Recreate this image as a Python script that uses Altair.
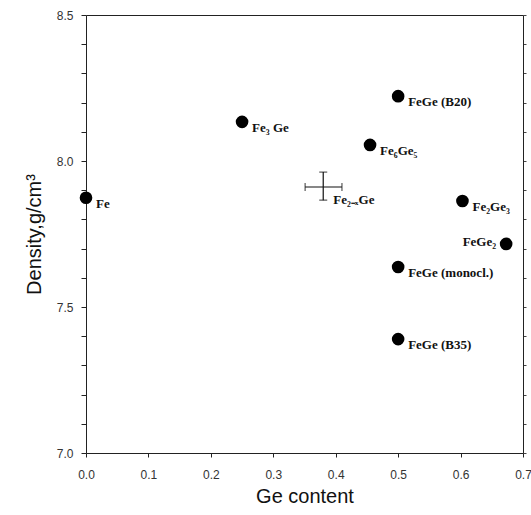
import altair as alt
import pandas as pd

# compounds
names = ["Fe", "Fe₃ Ge", "FeGe (B20)", "Fe₆Ge₅", "Fe₂Ge₃", "FeGe₂", "FeGe (monocl.)", "FeGe (B35)"]
ge = [0.0, 0.25, 0.5, 0.455, 0.603, 0.673, 0.5, 0.5]
density = [7.874, 8.134, 8.222, 8.055, 7.863, 7.716, 7.637, 7.39]
label_side = ["right", "right", "right", "right", "right", "left", "right", "right"]

# Fe2-xGe with error bars
err_name = ["Fe₂₋ₓGe"]
err_ge = [0.38]
err_ge_lo = [0.351]
err_ge_hi = [0.41]
err_den = [7.911]
err_den_lo = [7.866]
err_den_hi = [7.962]

y_ticks = [7.0, 7.1, 7.2, 7.3, 7.4, 7.5, 7.6, 7.7, 7.8, 7.9, 8.0, 8.1, 8.2, 8.3, 8.4, 8.5]
x_ticks = [0.0, 0.1, 0.2, 0.3, 0.4, 0.5, 0.6, 0.7]

pts = pd.DataFrame({"name": names, "ge": ge, "density": density, "side": label_side})
err = pd.DataFrame({"name": err_name, "ge": err_ge, "ge_lo": err_ge_lo, "ge_hi": err_ge_hi,
                    "density": err_den, "den_lo": err_den_lo, "den_hi": err_den_hi})

label_font = "Liberation Serif"
ink = "#111"

xs = alt.Scale(domain=[0.0, 0.7], nice=False, zero=False)
ys = alt.Scale(domain=[7.0, 8.5], nice=False, zero=False)

xaxis = alt.Axis(values=x_ticks, format=".1f", title="Ge content", grid=False,
                 ticks=True, tickSize=4, tickWidth=1, labelPadding=12, labelFontSize=12,
                 labelColor="#333", labelFlush=False, labelOverlap=False, labelBound=False,
                 labelFont="Liberation Sans", titleFont="Liberation Sans", titleFontSize=20,
                 titleFontWeight="normal", titleColor=ink, titlePadding=6,
                 domainColor="#222", tickColor="#222")
yaxis = alt.Axis(values=y_ticks, title="Density,g/cm³", grid=False,
                 labelExpr="round(datum.value*10) % 5 == 0 ? format(datum.value, '.1f') : ''",
                 ticks=True, tickSize=5, tickWidth=1, labelPadding=8, labelFontSize=12,
                 labelColor="#333", labelFlush=False, labelOverlap=False, labelBound=False,
                 labelFont="Liberation Sans", titleFont="Liberation Sans", titleFontSize=20,
                 titleFontWeight="normal", titleColor=ink, titlePadding=12,
                 domainColor="#222", tickColor="#222")
top_axis = alt.Axis(orient="top", values=x_ticks, labels=False, ticks=False, title=None,
                    grid=False, domainColor="#222")
right_axis = alt.Axis(orient="right", values=y_ticks, labels=False, ticks=True, tickSize=3,
                      tickColor="#444", title=None, grid=False, domainColor="#222")


def X(field):
    return alt.X(field, type="quantitative", scale=xs, axis=None)


def Y(field):
    return alt.Y(field, type="quantitative", scale=ys, axis=None)


base_pts = alt.Chart(pts)

dots = base_pts.mark_circle(size=160, color="black", opacity=1).encode(
    x=alt.X("ge:Q", scale=xs, axis=xaxis),
    y=alt.Y("density:Q", scale=ys, axis=yaxis),
)

frame = base_pts.mark_point(opacity=0).encode(
    x=alt.X("ge:Q", scale=xs, axis=top_axis),
    y=alt.Y("density:Q", scale=ys, axis=right_axis),
)

labels_r = base_pts.transform_filter(alt.datum.side == "right").mark_text(
    align="left", baseline="middle", dx=10, dy=6, font=label_font, fontSize=13,
    fontWeight="bold", color=ink
).encode(x=X("ge"), y=Y("density"), text="name:N")

labels_l = base_pts.transform_filter(alt.datum.side == "left").mark_text(
    align="right", baseline="middle", dx=-10, dy=-2, font=label_font, fontSize=13,
    fontWeight="bold", color=ink
).encode(x=X("ge"), y=Y("density"), text="name:N")

base_err = alt.Chart(err)
hbar = base_err.mark_rule(color=ink, strokeWidth=1.2).encode(
    x=X("ge_lo"), x2="ge_hi:Q", y=Y("density"))
vbar = base_err.mark_rule(color=ink, strokeWidth=1.2).encode(
    x=X("ge"), y=Y("den_lo"), y2="den_hi:Q")
cap_l = base_err.mark_tick(orient="vertical", size=8, thickness=1.2, color=ink).encode(
    x=X("ge_lo"), y=Y("density"))
cap_r = base_err.mark_tick(orient="vertical", size=8, thickness=1.2, color=ink).encode(
    x=X("ge_hi"), y=Y("density"))
cap_b = base_err.mark_tick(orient="horizontal", size=8, thickness=1.2, color=ink).encode(
    x=X("ge"), y=Y("den_lo"))
cap_t = base_err.mark_tick(orient="horizontal", size=8, thickness=1.2, color=ink).encode(
    x=X("ge"), y=Y("den_hi"))
err_label = base_err.mark_text(
    align="left", baseline="middle", dx=10, dy=13, font=label_font, fontSize=13,
    fontWeight="bold", color=ink
).encode(x=X("ge"), y=Y("density"), text="name:N")

chart = alt.layer(
    frame, dots, labels_r, labels_l, hbar, vbar, cap_l, cap_r, cap_b, cap_t, err_label
).resolve_axis(x="independent", y="independent").properties(
    width=437, height=438,
    autosize=alt.AutoSizeParams(type="none"),
    padding={"left": 86, "top": 15, "right": 8, "bottom": 62},
).configure_view(stroke=None).configure(background="white")

chart.save("out.html", embed_options={"renderer": "svg", "actions": False})
